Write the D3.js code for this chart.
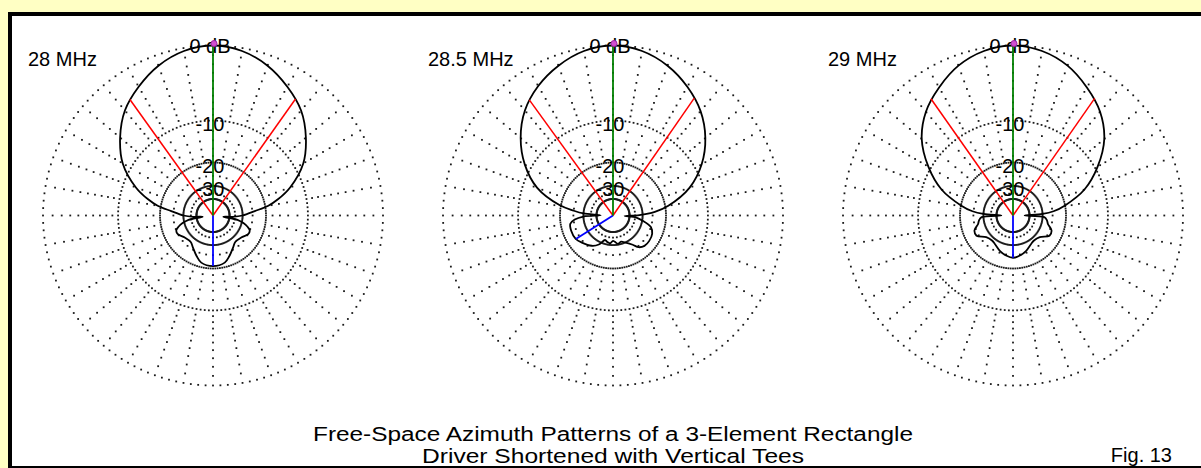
<!DOCTYPE html>
<html><head><meta charset="utf-8">
<script src="https://cdn.jsdelivr.net/npm/d3@7"></script>
<style>body{margin:0;background:#ffffc4;} svg{display:block}</style>
</head><body>
<svg id="c" width="1201" height="468"></svg>
<script>
// ---- data ----
const frequencies = ["28 MHz", "28.5 MHz", "29 MHz"];

// azimuth (deg, 0 = forward/up, clockwise) and relative gain (dB)
const az28 = [0,10,20,30,40,50,60,70,76,80,84,90,94,97,100,104,108,112,118,128,140,148,158,166,180,
              194,202,212,220,232,242,248,252,256,260,263,266,270,276,280,284,290,300,310,320,330,340,350];
const db28 = [0,-0.3,-1.1,-2.3,-3.7,-5.8,-8.4,-12.5,-16,-19,-24,-30,-37,-48,-33,-29,-26.5,-25,-24.9,-26.7,-27.3,-25.8,-23.3,-21.5,-20.8,
              -21.5,-23.3,-25.8,-27.3,-26.7,-24.9,-25,-26.5,-29,-33,-48,-37,-30,-24,-19,-16,-12.5,-8.4,-5.8,-3.7,-2.3,-1.1,-0.3];

const az285 = [0,10,20,30,40,50,60,70,80,85,89,92,95,100,107,115,125,134,141,146,155,163,170,176,180,
               186,192,198,206,215,229,238,250,259,264,268,271,274,277,281,290,300,310,320,330,340,350];
const db285 = [0,-0.3,-1.1,-2.3,-3.8,-5.9,-8.7,-12.6,-19,-24,-32,-46,-34,-29.7,-25,-23.5,-23.1,-23.3,-24.5,-27,-29.8,-31.3,-30.5,-32,-32.7,
               -31,-31.5,-32.4,-28.5,-26.2,-24.3,-23.2,-23,-23.4,-25.5,-30,-45,-30,-25,-19.5,-12.8,-8.8,-5.9,-3.7,-2.2,-1.1,-0.3];

const az29 = [0,10,20,30,40,50,60,70,79,84,87,90,93,98,104,111,119,129,140,148,160,171,180,
              189,200,212,220,231,241,249,256,262,267,270,273,276,281,290,300,310,320,330,340,350];
const db29 = [0,-0.3,-1.1,-2.4,-3.9,-6.1,-9.5,-13.8,-20,-24.5,-30,-46,-29,-27.5,-26.6,-24.3,-24.1,-27.4,-28.3,-27.7,-25.8,-24.5,-23.9,
              -24.5,-25.8,-27.7,-28.3,-27.4,-24.1,-24.3,-26.6,-27.5,-29,-46,-30,-24.5,-20,-13.8,-9.5,-6.1,-3.9,-2.4,-1.1,-0.3];

const halfPowerLeft  = [-35.6, -35.9, -35.1];   // deg, -3 dB points
const halfPowerRight = [35.3, 34.7, 34.9];
const halfPowerDb = -3;
const rearAz = [180, 237.6, 180];             // back-lobe cursor
const rearDb = [-20.8, -23.2, -23.9];

const ringLevels = [0, -10, -20, -30, -40];
const ringLabels = ["0 dB", "-10", "-20", "-30"];
const radialLevels = [-1,-2,-3,-4,-5,-6,-7,-8,-9,-12,-14,-16,-18,-25,-35];
const titleLines = ["Free-Space Azimuth Patterns of a 3-Element Rectangle", "Driver Shortened with Vertical Tees"];
const figLabel = "Fig. 13";

// ---- drawing ----
const patterns = [
  {az: az28, db: db28},
  {az: az285, db: db285},
  {az: az29, db: db29}
];
const W = 1201, H = 468;
const svg = d3.select("#c");
const FONT = "'Liberation Sans', Arial, sans-serif";

svg.append("rect").attr("width", W).attr("height", H).attr("fill", "#ffffc4");
svg.append("rect").attr("x", 8).attr("y", 12).attr("width", W).attr("height", H - 12).attr("fill", "#000");
svg.append("rect").attr("x", 12).attr("y", 16).attr("width", W).attr("height", 450).attr("fill", "#fff");

const R = 170, cy = 215.5;
const xCenter = d3.scalePoint().domain(frequencies).range([213, 1013]);
// ARRL log-periodic scale: each 2 dB multiplies radius by 0.89
const rLog = d3.scaleLog().domain([R * Math.pow(0.89, 20), R]).range([-40, 0]);
const rOf = db => rLog.invert(db);
const aOf = d3.scaleLinear().domain([0, 360]).range([0, 2 * Math.PI]);

frequencies.forEach((f, i) => {
  const cx = xCenter(f);
  const g = svg.append("g").attr("transform", `translate(${cx},${cy})`);

  // dotted rings
  const ringDots = [];
  ringLevels.forEach(l => d3.range(0, 360, 2.5).forEach(a => ringDots.push(d3.pointRadial(aOf(a), rOf(l)))));
  // radial dot lines every 10 degrees
  d3.range(0, 360, 10).forEach(a => radialLevels.forEach(l => ringDots.push(d3.pointRadial(aOf(a), rOf(l)))));
  g.append("g").selectAll("rect").data(ringDots).join("rect")
    .attr("x", d => d[0] - 0.9).attr("y", d => d[1] - 0.9)
    .attr("width", 1.8).attr("height", 1.8).attr("fill", "#1a1a1a");

  // ring labels
  g.selectAll("text.rl").data(ringLabels).join("text").attr("class", "rl")
    .attr("x", -3).attr("y", (d, j) => -rOf(ringLevels[j]) + (j === 0 ? 7 : 10))
    .attr("text-anchor", "middle").attr("font-family", FONT).attr("font-size", 20)
    .attr("fill", "#000").text(d => d);

  // pattern
  const p = patterns[i];
  const pts = p.az.map((a, k) => [aOf(a), rOf(p.db[k])]);
  const line = d3.lineRadial().angle(d => d[0]).radius(d => d[1]).curve(d3.curveCatmullRomClosed.alpha(0.5));
  g.append("path").attr("d", line(pts)).attr("fill", "none").attr("stroke", "#000").attr("stroke-width", 1.8);

  // half-power lines
  [halfPowerLeft[i], halfPowerRight[i]].forEach(a => {
    const e = d3.pointRadial(aOf(a), rOf(halfPowerDb));
    g.append("line").attr("x1", 0).attr("y1", 0).attr("x2", e[0]).attr("y2", e[1])
      .attr("stroke", "#ff0000").attr("stroke-width", 1.5);
  });
  // rear cursor
  const b = d3.pointRadial(aOf(rearAz[i]), rOf(rearDb[i]));
  g.append("line").attr("x1", 0).attr("y1", 0).attr("x2", b[0]).attr("y2", b[1])
    .attr("stroke", "#0000ff").attr("stroke-width", 1.8);
  // forward cursor
  const t = d3.pointRadial(aOf(0), rOf(0));
  g.append("line").attr("x1", 0).attr("y1", 0).attr("x2", t[0]).attr("y2", t[1])
    .attr("stroke", "#008000").attr("stroke-width", 1.8);
  g.append("circle").attr("cx", t[0] + 1).attr("cy", t[1] - 2).attr("r", 3)
    .attr("fill", "#d050d0").attr("stroke", "#a020a0").attr("stroke-width", 1);

  // frequency label
  svg.append("text").attr("x", cx - 185).attr("y", 66).attr("font-family", FONT)
    .attr("font-size", 20).attr("fill", "#000").text(f);
});

// title
const titleWidths = [600, 382];
svg.selectAll("text.title").data(titleLines).join("text").attr("class", "title")
  .attr("x", xCenter(frequencies[1])).attr("y", (d, j) => 441 + j * 22)
  .attr("text-anchor", "middle").attr("font-family", FONT).attr("font-size", 20)
  .attr("textLength", (d, j) => titleWidths[j]).attr("lengthAdjust", "spacingAndGlyphs")
  .attr("fill", "#000").text(d => d);
svg.append("text").attr("x", 1172).attr("y", 462).attr("text-anchor", "end")
  .attr("font-family", FONT).attr("font-size", 20).attr("fill", "#000").text(figLabel);
</script>
</body></html>
